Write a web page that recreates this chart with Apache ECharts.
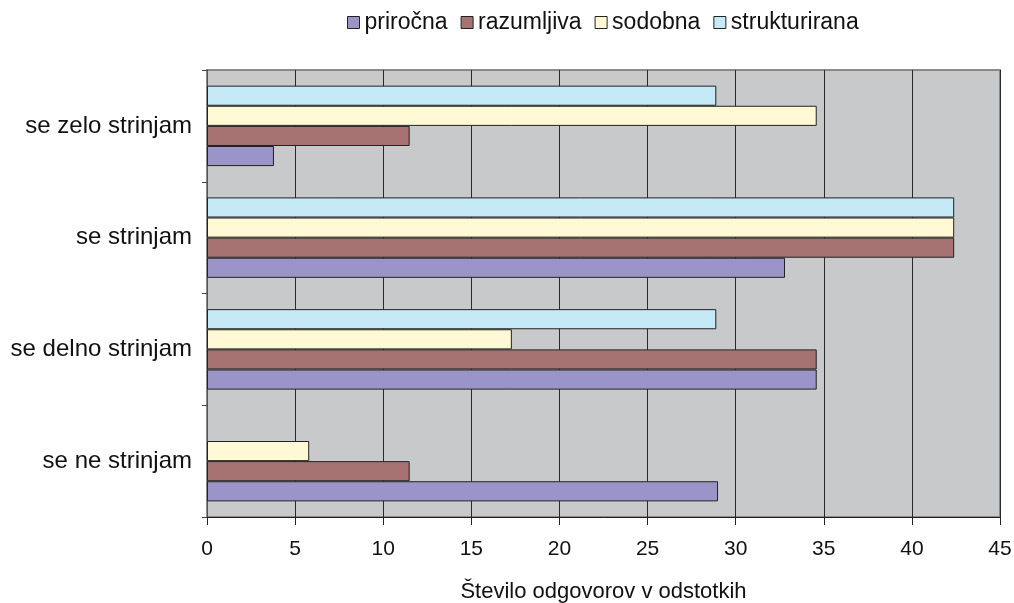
<!DOCTYPE html>
<html>
<head>
	<meta charset="utf-8" />
	<title>Število odgovorov v odstotkih</title>
	<script src="https://cdn.jsdelivr.net/npm/echarts@6/dist/echarts.min.js"></script>
	<style>
		body { margin: 0; background: #fff; }
	</style>
</head>
<body>
	<div id="main" style="width: 1014px;height: 603px;"></div>

	<script type="text/javascript">
		// kategorije od spodaj navzgor
		var categories = ['se ne strinjam', 'se delno strinjam', 'se strinjam', 'se zelo strinjam'];
		var names = ['priročna', 'razumljiva', 'sodobna', 'strukturirana'];
		var colors = ['#9b94c9', '#a67272', '#fffad5', '#c6e9f8'];

		var prirocna = [29.0, 34.6, 32.8, 3.8];
		var razumljiva = [11.5, 34.6, 42.4, 11.5];
		var sodobna = [5.8, 17.3, 42.4, 34.6];
		var strukturirana = ['-', 28.9, 42.4, 28.9];

		var xTicks = [0, 45, 5];   // min, max, interval

		var values = [prirocna, razumljiva, sodobna, strukturirana];
		var font = 'Liberation Sans, Arial, sans-serif';

		var myChart = echarts.init(document.getElementById('main'));

		// v ECharts je prva serija zgoraj, zato obrnemo vrstni red
		var series = [];
		for (var i = names.length - 1; i >= 0; i--) {
			series.push({
				name: names[i],
				type: 'bar',
				barGap: '0%',
				barCategoryGap: '28%',
				itemStyle: {
					color: colors[i],
					borderColor: '#222',
					borderWidth: 1
				},
				data: values[i]
			});
		}

		var option = {
			animation: false,
			textStyle: { fontFamily: font },
			legend: {
				top: 6,
				left: 342,
				icon: 'rect',
				itemWidth: 12,
				itemHeight: 12,
				itemGap: 13,
				textStyle: { fontSize: 23, color: '#111', fontFamily: font },
				itemStyle: { borderColor: '#222', borderWidth: 1 },
				data: names
			},
			grid: {
				left: 207,
				right: 14,
				top: 70,
				bottom: 86,
				outerBoundsMode: 'none',
				containLabel: false,
				show: true,
				backgroundColor: '#c8c9cb',
				borderColor: '#8a8a8a',
				borderWidth: 2
			},
			xAxis: {
				type: 'value',
				min: xTicks[0],
				max: xTicks[1],
				interval: xTicks[2],
				name: 'Število odgovorov v odstotkih',
				nameLocation: 'middle',
				nameGap: 64,
				nameTextStyle: { fontSize: 22, color: '#111' },
				axisLine: { show: true, lineStyle: { color: '#222', width: 1 } },
				axisTick: { show: true, length: 8, lineStyle: { color: '#222' } },
				axisLabel: { fontSize: 21, color: '#111', margin: 22 },
				splitLine: { show: true, lineStyle: { color: '#2a2a2a', width: 1 } }
			},
			yAxis: {
				type: 'category',
				data: categories,
				axisLine: { show: true, lineStyle: { color: '#555', width: 1 } },
				axisTick: { show: true, length: 5, lineStyle: { color: '#444' } },
				axisLabel: { fontSize: 24, color: '#111', margin: 15 }
			},
			series: series
		};

		myChart.setOption(option);
	</script>
</body>
</html>
